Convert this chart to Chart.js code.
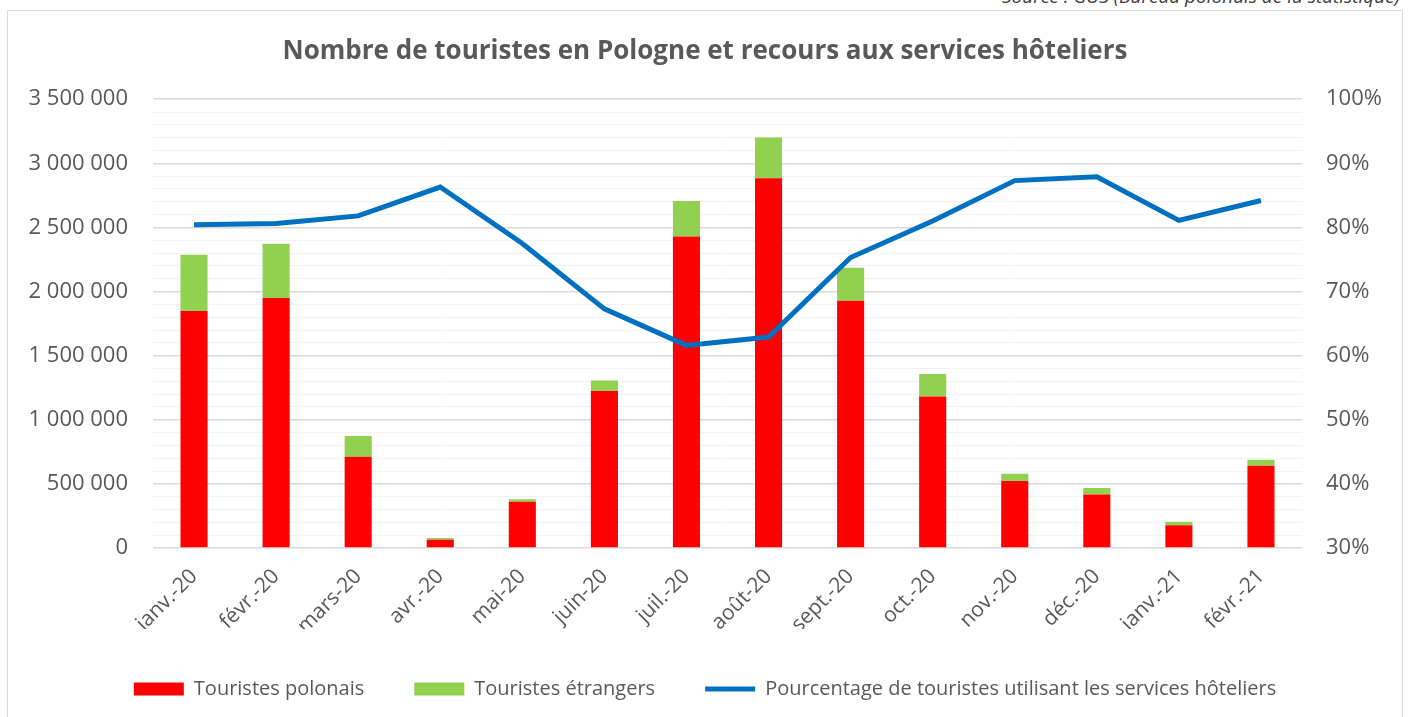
<!DOCTYPE html>
<html lang="fr">
<head>
<meta charset="UTF-8">
<title>Nombre de touristes en Pologne</title>
<script src="https://cdn.jsdelivr.net/npm/chart.js"></script>
<style>
    body {
        margin: 0;
        background: #fff;
        width: 1409px;
        height: 717px;
        overflow: hidden;
        position: relative;
        font-family: "Open Sans", sans-serif;
    }
    #source {
        position: absolute;
        right: 9px;
        top: -13px;
        font-size: 19px;
        line-height: 19px;
        font-style: italic;
        color: #404040;
    }
    #frame {
        position: absolute;
        left: 7px;
        top: 10px;
        width: 1396px;
        height: 720px;
        border: 1px solid #d9d9d9;
        box-sizing: border-box;
    }
    #wrap {
        position: relative;
        width: 1394px;
        height: 706px;
    }
</style>
</head>
<body>
<div id="source">Source : GUS (Bureau polonais de la statistique)</div>
<div id="frame">
    <div id="wrap"><canvas id="chart"></canvas></div>
</div>
<script>
// months
const months = ['janv.-20', 'févr.-20', 'mars-20', 'avr.-20', 'mai-20', 'juin-20', 'juil.-20',
    'août-20', 'sept.-20', 'oct.-20', 'nov.-20', 'déc.-20', 'janv.-21', 'févr.-21'];

// tourists
const polonais = [1848000, 1950000, 712000, 65000, 360000, 1224000, 2430000,
    2884000, 1929000, 1182000, 522000, 417000, 178000, 642000];
const etrangers = [438000, 422000, 162000, 13000, 21000, 83000, 277000,
    318000, 256000, 175000, 57000, 50000, 26000, 47000];
// % using hotel services
const pourcentage = [80.4, 80.6, 81.8, 86.3, 77.5, 67.3, 61.6,
    62.9, 75.3, 81.0, 87.3, 87.9, 81.1, 84.2];

const gray = '#595959';

function fmtSpace(v) {
    return String(v).replace(/\B(?=(\d{3})+(?!\d))/g, ' ');
}

new Chart(document.getElementById('chart'), {
    data: {
        labels: months,
        datasets: [
            {
                type: 'bar',
                label: 'Touristes polonais',
                data: polonais,
                backgroundColor: '#ff0000',
                yAxisID: 'y',
                stack: 's',
                order: 1,
                barPercentage: 0.33,
                categoryPercentage: 1
            },
            {
                type: 'bar',
                label: 'Touristes étrangers',
                data: etrangers,
                backgroundColor: '#92d050',
                yAxisID: 'y',
                stack: 's',
                order: 1,
                barPercentage: 0.33,
                categoryPercentage: 1
            },
            {
                type: 'line',
                label: 'Pourcentage de touristes utilisant les services hôteliers',
                data: pourcentage,
                borderColor: '#0070c0',
                backgroundColor: '#0070c0',
                borderWidth: 5,
                pointRadius: 0,
                tension: 0,
                yAxisID: 'y1',
                order: 0
            }
        ]
    },
    options: {
        responsive: true,
        maintainAspectRatio: false,
        animation: false,
        layout: { padding: { left: 10, right: 10, top: 0, bottom: 8 } },
        plugins: {
            title: {
                display: true,
                text: 'Nombre de touristes en Pologne et recours aux services hôteliers',
                color: gray,
                font: { family: 'Open Sans', size: 26, weight: 'bold' },
                padding: { top: 25, bottom: 32 }
            },
            legend: {
                position: 'bottom',
                labels: {
                    color: gray,
                    font: { family: 'Open Sans', size: 20 },
                    usePointStyle: true,
                    pointStyleWidth: 50,
                    boxHeight: 13,
                    padding: 50,
                    sort: (a, b) => a.datasetIndex - b.datasetIndex,
                    generateLabels(chart) {
                        const items = Chart.defaults.plugins.legend.labels.generateLabels(chart);
                        items.forEach(it => {
                            const ds = chart.data.datasets[it.datasetIndex];
                            if (ds.type === 'line') {
                                it.pointStyle = 'line';
                                it.lineWidth = 5;
                                it.strokeStyle = ds.borderColor;
                            } else {
                                it.pointStyle = 'rect';
                                it.lineWidth = 0;
                            }
                        });
                        return items;
                    }
                }
            },
            tooltip: { enabled: false }
        },
        scales: {
            x: {
                grid: { display: false },
                border: { display: false },
                ticks: {
                    color: gray,
                    font: { family: 'Open Sans', size: 21 },
                    minRotation: 45,
                    maxRotation: 45,
                    padding: 8
                },
                afterFit(scale) { scale.height = 81; }
            },
            y: {
                position: 'left',
                stacked: true,
                min: 0,
                max: 3500000,
                border: { display: false },
                grid: {
                    drawTicks: false,
                    color: ctx => ctx.tick && ctx.tick.value % 500000 === 0 ? '#d9d9d9' : '#f2f2f2',
                    lineWidth: ctx => ctx.tick && ctx.tick.value % 500000 === 0 ? 1.5 : 1
                },
                ticks: {
                    stepSize: 100000,
                    maxTicksLimit: 100,
                    autoSkip: false,
                    color: gray,
                    padding: 25,
                    font: { family: 'Open Sans', size: 22 },
                    callback: v => v % 500000 === 0 ? fmtSpace(v) : ''
                },
                afterFit(scale) { scale.width = 135; }
            },
            y1: {
                position: 'right',
                min: 30,
                max: 100,
                border: { display: false },
                grid: { display: false, drawTicks: false },
                ticks: {
                    stepSize: 10,
                    color: gray,
                    padding: 24,
                    font: { family: 'Open Sans', size: 22 },
                    callback: v => v + '%'
                },
                afterFit(scale) { scale.width = 90; }
            }
        }
    }
});
</script>
</body>
</html>
